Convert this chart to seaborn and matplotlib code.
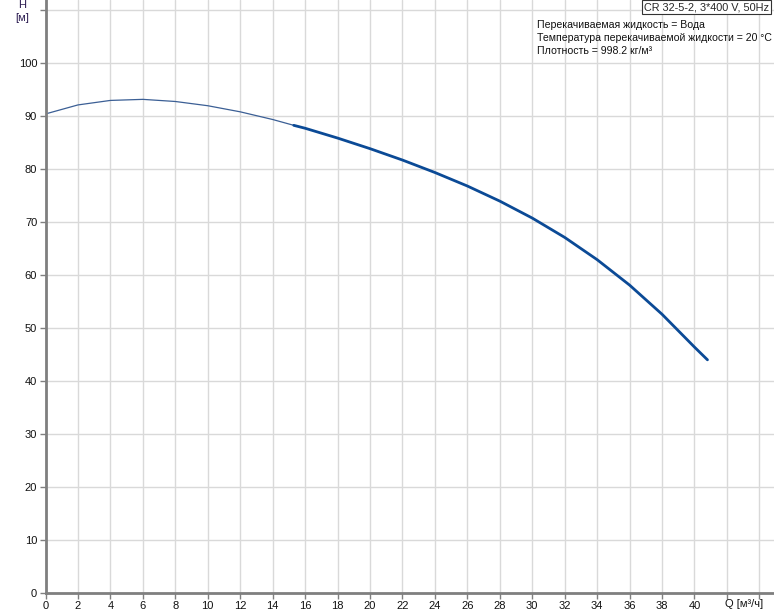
import matplotlib
matplotlib.use("Agg")
import matplotlib.pyplot as plt
import seaborn as sns
import pandas as pd

# pump curve
q_values = [0, 2, 4, 6, 8, 10, 12, 14, 15.3, 16, 18, 20, 22, 24, 26, 28, 30, 32, 34, 36, 38, 40, 40.8]
h_values = [90.4, 92.1, 92.95, 93.15, 92.75, 91.95, 90.8, 89.35, 88.25, 87.7, 85.85, 83.85, 81.7, 79.35,
            76.8, 73.95, 70.75, 67.1, 62.9, 58.1, 52.6, 46.4, 44.0]
q_split = 15.3

x_ticks = list(range(0, 46, 2))
x_labels = [str(t) if t <= 40 else "" for t in x_ticks]
y_ticks = list(range(0, 111, 10))
y_labels = [str(t) if t <= 100 else "" for t in y_ticks]

title_box = "CR 32-5-2, 3*400 V, 50Hz"
info_lines = [
    "Перекачиваемая жидкость = Вода",
    "Температура перекачиваемой жидкости = 20 °C",
    "Плотность = 998.2 кг/м³",
]

sns.set_style("white")
plt.rcParams["font.family"] = ["Liberation Sans", "DejaVu Sans"]

df = pd.DataFrame({"Q": q_values, "H": h_values})
thin = df[df["Q"] <= q_split]
thick = df[df["Q"] >= q_split]

fig = plt.figure(figsize=(7.74, 6.11), dpi=100)
ax = fig.add_axes([45.5 / 774, 18 / 611, (774 - 45.5) / 774, 593 / 611])

line_color = "#0b4a96"
sns.lineplot(data=thin, x="Q", y="H", ax=ax, color="#3b5f95", linewidth=0.9, sort=False,
             solid_joinstyle="round")
sns.lineplot(data=thick, x="Q", y="H", ax=ax, color=line_color, linewidth=2.0, sort=False,
             solid_joinstyle="round")

ax.set_xlim(0, 44.9)
ax.set_ylim(0, 111.9)
ax.set_xticks(x_ticks)
ax.set_xticklabels(x_labels)
ax.set_yticks(y_ticks)
ax.set_yticklabels(y_labels)
ax.grid(True, color="#d9d9d9", linewidth=1)
ax.set_axisbelow(True)
ax.set_xlabel("")
ax.set_ylabel("")

for side in ["top", "right"]:
    ax.spines[side].set_visible(False)
for side in ["left", "bottom"]:
    ax.spines[side].set_color("#7f7f7f")
    ax.spines[side].set_linewidth(2)

ax.tick_params(axis="both", direction="out", length=4, width=1, color="#7f7f7f",
               labelsize=8, labelcolor="#111111", pad=2, bottom=True, left=True)

fig.text(22 / 774, 1 - 5 / 611, "H", ha="center", va="center", fontsize=8, color="#2a1a50")
fig.text(22 / 774, 1 - 18 / 611, "[м]", ha="center", va="center", fontsize=8, color="#2a1a50")
fig.text(744 / 774, 1 - 604 / 611, "Q [м³/ч]", ha="center", va="center", fontsize=8, color="#111111")

fig.text(769 / 774, 1 - 7 / 611, title_box, ha="right", va="center", fontsize=7.8,
         bbox=dict(boxstyle="square,pad=0.2", facecolor="white", edgecolor="#333333", linewidth=0.8))
for i, line in enumerate(info_lines):
    fig.text(537 / 774, 1 - (25 + 13 * i) / 611, line, ha="left", va="center", fontsize=7.6,
             color="#111111")

fig.savefig("out.png", dpi=100)
